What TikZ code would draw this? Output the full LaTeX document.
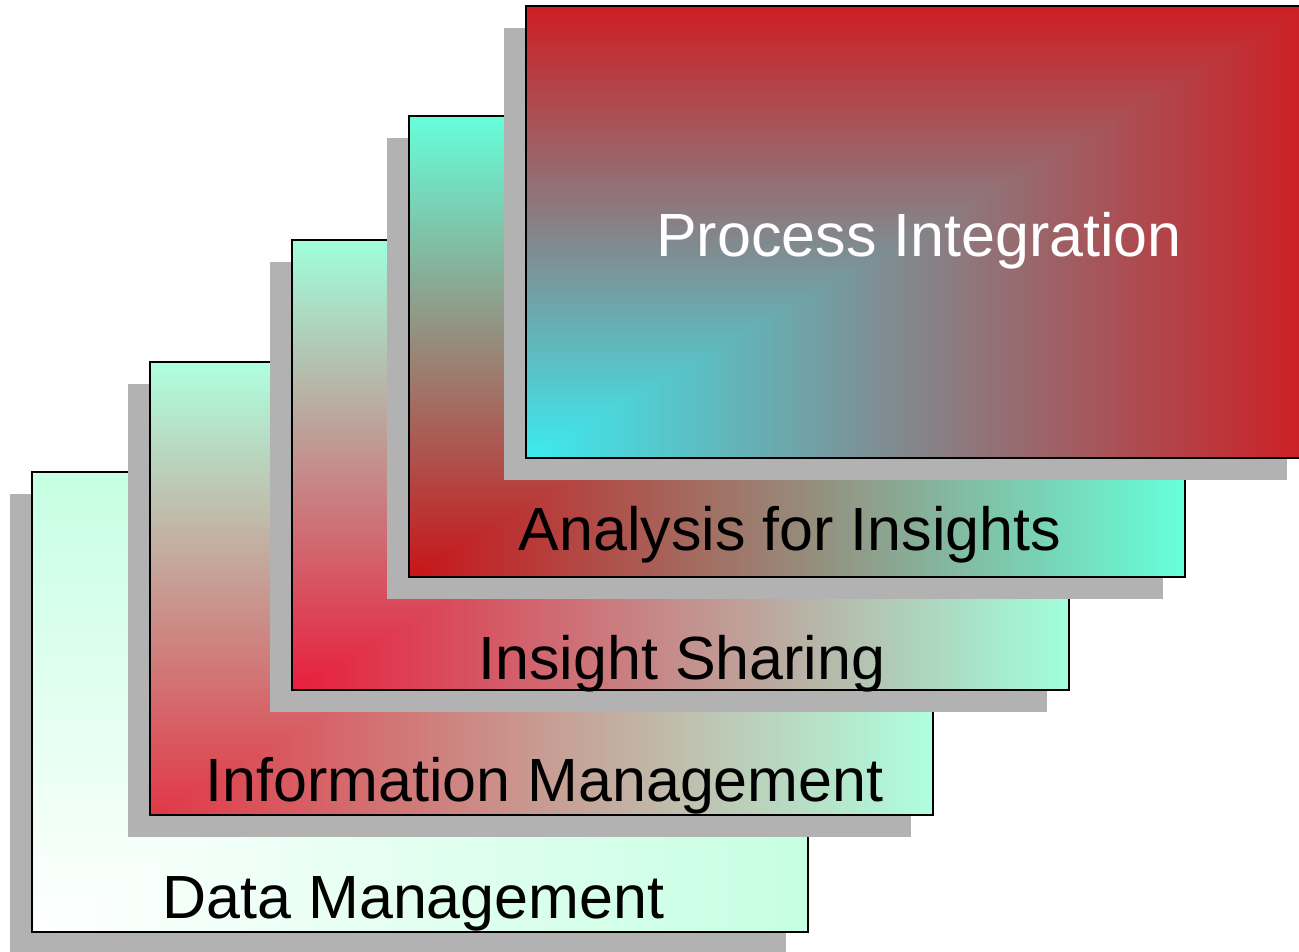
\documentclass[tikz,border=0pt]{standalone}
\usepackage{fontspec}
\setmainfont{Liberation Sans}
\usetikzlibrary{shadows}

\definecolor{dataFrom}{RGB}{255,255,255}
\definecolor{dataTo}{RGB}{198,255,226}
\definecolor{infoFrom}{RGB}{225,55,70}
\definecolor{infoTo}{RGB}{175,255,222}
\definecolor{shareFrom}{RGB}{232,30,60}
\definecolor{shareTo}{RGB}{160,255,220}
\definecolor{analysisFrom}{RGB}{200,20,25}
\definecolor{analysisTo}{RGB}{102,255,218}
\definecolor{processFrom}{RGB}{60,235,240}
\definecolor{processTo}{RGB}{205,30,35}

% corner gradient, from the lower left corner
\newcommand*{\cornershading}[3]{%
  \pgfdeclarefunctionalshading{#1}{\pgfpointorigin}{\pgfpoint{100bp}{100bp}}%
  {\pgfshadecolortorgb{#2}{\cfrom}\pgfshadecolortorgb{#3}{\cto}}%
  {2 copy sub abs add add 2 div 25 sub 50 div
   dup \ctored\space \cfromred\space sub mul \cfromred\space add exch
   dup \ctogreen\space \cfromgreen\space sub mul \cfromgreen\space add exch
   \ctoblue\space \cfromblue\space sub mul \cfromblue\space add}}
\cornershading{dataShade}{dataFrom}{dataTo}
\cornershading{infoShade}{infoFrom}{infoTo}
\cornershading{shareShade}{shareFrom}{shareTo}
\cornershading{analysisShade}{analysisFrom}{analysisTo}
\cornershading{processShade}{processFrom}{processTo}

\begin{document}
\begin{tikzpicture}[x=1pt,y=-1pt,
    card/.style={draw, line width=2.2pt, inner sep=0pt, shade, shading=#1,
      general shadow={fill=black!30, shadow xshift=-22pt, shadow yshift=-22pt}},
    label/.style={anchor=base, inner sep=0pt, font=\fontsize{61}{73}\selectfont}]
  \useasboundingbox (0,0) rectangle (1299,951);
  \node[card=dataShade, minimum width=776pt, minimum height=460pt] (data) at (420,702) {};
  \node[label] (dataText) at (413.5,918) {Data Management};
  \node[card=infoShade, minimum width=783pt, minimum height=453pt] (info) at (541.5,588.5) {};
  \node[label] (infoText) at (544.5,801) {Information Management};
  \node[card=shareShade, minimum width=777pt, minimum height=450pt] (share) at (680.5,465) {};
  \node[label] (shareText) at (682,679) {Insight Sharing};
  \node[card=analysisShade, minimum width=776pt, minimum height=461pt] (analysis) at (797,346.5) {};
  \node[label] (analysisText) at (790,550) {Analysis for Insights};
  \node[card=processShade, minimum width=783pt, minimum height=452pt] (process) at (917.5,232) {};
  \node[label, text=white] (processText) at (919,256) {Process Integration};
\end{tikzpicture}
\end{document}
